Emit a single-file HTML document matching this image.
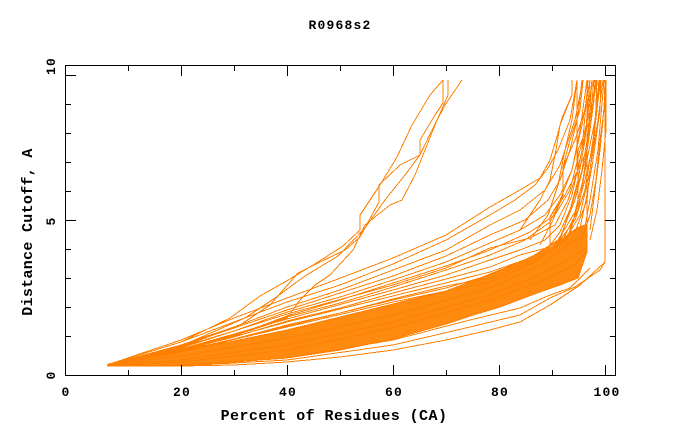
<!DOCTYPE html>
<html>
<head>
<meta charset="utf-8">
<style>
  html, body { margin: 0; padding: 0; background: #ffffff; }
  body { width: 680px; height: 440px; overflow: hidden; }
  svg { display: block; }
  .t { font-family: "Liberation Mono", "DejaVu Sans Mono", monospace; font-weight: bold; fill: #000; }
</style>
</head>
<body>
<svg width="680" height="440" viewBox="0 0 680 440" xmlns="http://www.w3.org/2000/svg">
<rect x="0" y="0" width="680" height="440" fill="#ffffff"/>
<text class="t" x="340" y="29" font-size="13" letter-spacing="1.2" text-anchor="middle">R0968s2</text>
<g fill="none" stroke="#ff8000" stroke-width="1" stroke-linejoin="round" shape-rendering="crispEdges">
<polygon fill="#ff8a10" stroke="#ff8000" points="108,364 140,358 181,351 234,341 287,330 340,317 393,304 446,291 470,282 520,262 550,248 577,228 587,224 587,252 578,278 560,285 540,292 500,307 470,316 446,324 393,339 340,350 287,358 234,362 181,365 140,366 108,366"/>
<polyline points="107,365 181,356 287,338 393,315 490,288 540,265 575,240 587,230"/>
<polyline points="107,365 181,360 287,345 393,322 490,295 540,275 575,255 587,247"/>
<polyline points="107,366 181,362 287,350 393,328 490,300 540,282 575,265 587,250"/>
<polyline points="107,365 181,342 230,318 260,296 290,279 318,262 343,246 360,230 360,215 380,185 397,157 412,125 430,95 443,80"/>
<polyline points="107,365 181,347 240,325 270,305 298,273 320,262 345,250 360,237 379,202 379,185 400,165 420,155 420,140 435,115 443,103 443,80"/>
<polyline points="107,365 181,350 252,330 287,318 300,300 315,285 330,275 353,250 365,225 390,205 402,200 415,175 425,150 435,125 448,95 448,80"/>
<polyline points="107,365 181,346 245,318 275,298 305,276 338,256 365,228 385,200 405,175 420,155 432,130 445,105 462,80"/>
<polyline points="107,365 181,340 234,318 287,298 330,282 393,258 446,235 490,207 520,190 540,178 550,160 556,140 562,118 572,95 572,80"/>
<polyline points="107,365 181,342 234,322 287,302 340,285 393,264 446,240 490,215 515,200 535,185 548,168 558,150 570,120 577,80"/>
<polyline points="107,365 181,345 234,327 287,307 340,290 393,270 446,250 490,225 520,210 545,190 560,165 575,120 583,80"/>
<polyline points="107,365 181,347 234,331 287,312 340,297 393,280 446,262 490,243 520,230 545,215 560,195 572,170 582,125 590,80"/>
<polyline points="107,365 181,349 234,335 287,317 340,303 393,287 446,270 490,255 525,240 550,222 563,197 563,167 575,140 585,110 594,80"/>
<polyline points="107,365 181,350 234,337 287,321 340,308 393,293 446,279 490,267 520,255 550,247 550,217 565,195 578,170 578,150 590,120 597,80"/>
<polyline points="107,365 181,351 234,339 287,325 340,313 393,299 446,286 490,278 530,262 560,245 578,210 587,160 595,120 601,80"/>
<polyline points="107,365 181,350 234,336 287,316 340,300 393,283 446,266 490,250 530,232 555,215 570,190 580,150 590,110 597,80"/>
<polyline points="107,365 181,352 287,327 393,302 490,282 535,262 565,240 580,215 590,170 598,120 603,80"/>
<polyline points="107,365 181,351 287,322 393,296 490,272 530,258 560,240 575,220 585,190 593,140 599,80"/>
<polyline points="107,365 181,346 287,310 393,276 446,256 490,235 525,220 548,200 560,180 570,150 578,115 582,80"/>
<polyline points="107,365 181,348 287,314 393,285 446,268 490,248 530,238 555,225 568,200 578,170 586,130 592,80"/>
<polyline points="107,365 181,352 287,326 393,300 446,288 490,275 530,258 558,240 575,212 583,180 590,130 596,80"/>
<polyline points="107,365 181,349 287,319 393,290 446,275 490,260 520,250 545,240 560,225 572,195 582,150 588,80"/>
<polyline points="520,230 540,200 550,180 556,150 560,125 572,95 572,80"/>
<polyline points="530,240 548,215 558,185 565,150 572,120 577,80"/>
<polyline points="540,245 553,220 563,195 563,167 570,140 580,110 583,80"/>
<polyline points="550,247 550,217 560,200 572,170 580,130 587,80"/>
<polyline points="560,240 570,210 578,180 585,140 590,80"/>
<polyline points="570,235 578,200 578,170 587,150 594,80"/>
<polyline points="575,232 587,200 590,170 595,130 597,80"/>
<polyline points="580,228 587,195 593,160 600,110 601,80"/>
<polyline points="585,226 590,200 598,150 604,80"/>
<polyline points="587,250 587,80"/>
<polyline points="577,170 577,80"/>
<polyline points="590,230 595,190 600,150 603,120 606,80"/>
<polyline points="565,245 575,215 585,180 592,150 597,110 600,80"/>
<polyline points="555,250 565,225 575,200 585,160 590,130 594,100 595,80"/>
<polyline points="590,240 597,210 602,170 606,130 606,80"/>
<polyline points="545,252 560,232 572,205 582,170 588,135 592,80"/>
<polyline points="580,245 590,215 596,180 600,140 604,110 605,80"/>
<polyline points="107,366 181,366 234,365 287,362 340,357 393,350 446,340 490,330 520,322 550,305 580,285 605,262 605,80"/>
<polyline points="107,366 181,366 287,360 393,345 470,327 520,315 550,298 575,287 600,270 605,262"/>
<polyline points="107,366 181,365 287,358 393,340 470,320 520,308 550,295 570,288 590,268"/>
</g>
<rect x="65.5" y="65.5" width="550" height="310" fill="none" stroke="#000" stroke-width="1"/>
<path stroke="#000" stroke-width="1" fill="none" shape-rendering="crispEdges" d="M181.5 375V365M287.5 375V365M393.5 375V365M499.5 375V365M605.5 375V365M128.5 375V370M234.5 375V370M340.5 375V370M446.5 375V370M552.5 375V370M181.5 66V76M287.5 66V76M393.5 66V76M499.5 66V76M605.5 66V76M128.5 66V71M234.5 66V71M340.5 66V71M446.5 66V71M552.5 66V71M66 75.5H76M66 220.5H76M66 104.5H71M66 133.5H71M66 162.5H71M66 191.5H71M66 249.5H71M66 278.5H71M66 307.5H71M66 336.5H71M615 75.5H605M615 220.5H605M615 104.5H610M615 133.5H610M615 162.5H610M615 191.5H610M615 249.5H610M615 278.5H610M615 307.5H610M615 336.5H610"/>
<text class="t" x="66" y="396" font-size="13" letter-spacing="1.2" text-anchor="middle">0</text>
<text class="t" x="182" y="396" font-size="13" letter-spacing="1.2" text-anchor="middle">20</text>
<text class="t" x="288" y="396" font-size="13" letter-spacing="1.2" text-anchor="middle">40</text>
<text class="t" x="394" y="396" font-size="13" letter-spacing="1.2" text-anchor="middle">60</text>
<text class="t" x="500" y="396" font-size="13" letter-spacing="1.2" text-anchor="middle">80</text>
<text class="t" x="607" y="396" font-size="13" letter-spacing="1.2" text-anchor="middle">100</text>
<text class="t" font-size="13" letter-spacing="1.2" text-anchor="middle" transform="translate(55,375) rotate(-90)">0</text>
<text class="t" font-size="13" letter-spacing="1.2" text-anchor="middle" transform="translate(55,221) rotate(-90)">5</text>
<text class="t" font-size="13" letter-spacing="1.2" text-anchor="middle" transform="translate(55,66) rotate(-90)">10</text>
<text class="t" x="334" y="420" font-size="15" letter-spacing="0.45" text-anchor="middle">Percent of Residues (CA)</text>
<text class="t" font-size="15" letter-spacing="0.3" text-anchor="middle" transform="translate(32,232) rotate(-90)">Distance Cutoff, A</text>
</svg>
</body>
</html>
